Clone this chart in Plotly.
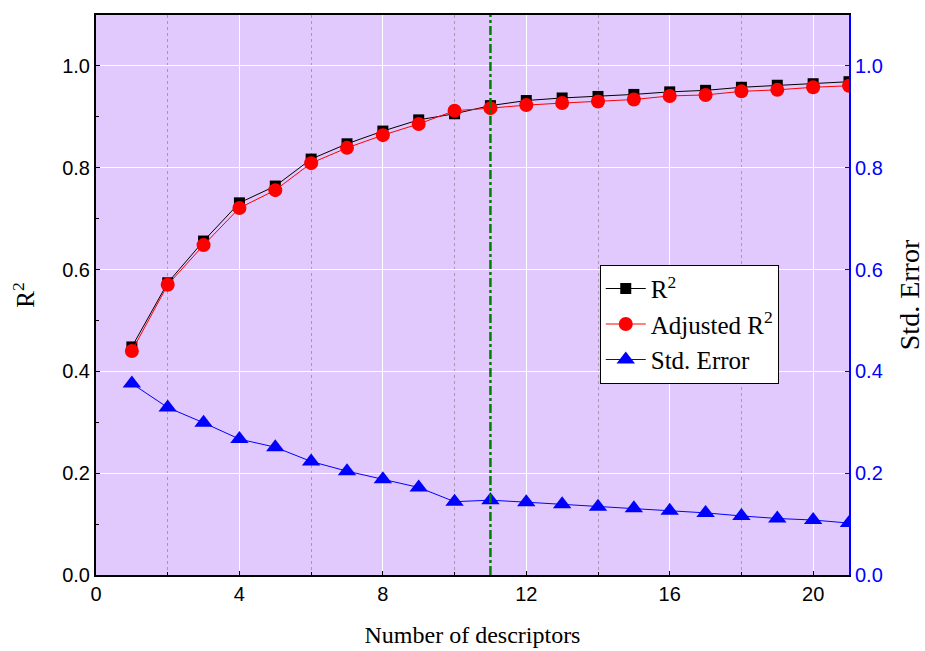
import plotly.graph_objects as go

# Model size vs. fit quality
n_descriptors = list(range(1, 22))
r2 = [0.448, 0.574, 0.656, 0.731, 0.764, 0.817, 0.847, 0.872, 0.894, 0.906, 0.922,
      0.932, 0.937, 0.940, 0.944, 0.949, 0.952, 0.958, 0.962, 0.965, 0.969]
adj_r2 = [0.440, 0.570, 0.648, 0.721, 0.756, 0.809, 0.839, 0.864, 0.886, 0.912, 0.917,
          0.923, 0.927, 0.930, 0.934, 0.941, 0.943, 0.950, 0.953, 0.958, 0.961]
std_error = [0.376, 0.329, 0.299, 0.267, 0.251, 0.223, 0.204, 0.188, 0.172, 0.144, 0.147,
             0.143, 0.139, 0.134, 0.131, 0.126, 0.122, 0.116, 0.111, 0.108, 0.102]
selected_n = 11

serif = "Liberation Serif"
sans = "Liberation Sans"

fig = go.Figure()
fig.add_trace(go.Scatter(
    x=n_descriptors, y=r2, name="R<sup>2</sup>", mode="lines+markers",
    line=dict(color="black", width=1),
    marker=dict(symbol="square", size=11, color="black"),
))
fig.add_trace(go.Scatter(
    x=n_descriptors, y=adj_r2, name="Adjusted R<sup>2</sup>", mode="lines+markers",
    line=dict(color="red", width=1),
    marker=dict(symbol="circle", size=14, color="red"),
))
fig.add_trace(go.Scatter(
    x=n_descriptors, y=std_error, name="Std. Error", mode="lines+markers",
    yaxis="y2",
    line=dict(color="blue", width=1),
    marker=dict(symbol="triangle-up", size=16, color="blue"),
))

fig.add_shape(type="line", xref="x", yref="paper", x0=selected_n, x1=selected_n,
              y0=0, y1=1, line=dict(color="#008000", width=2.5, dash="dashdot"))

fig.update_layout(
    width=925, height=651,
    margin=dict(l=96, r=76, t=15, b=76),
    paper_bgcolor="white",
    plot_bgcolor="#E1C9FD",
    font=dict(family=sans, size=20, color="black"),
    showlegend=True,
    legend=dict(
        x=0.669, y=0.554, xanchor="left", yanchor="top",
        bgcolor="white", bordercolor="black", borderwidth=1,
        font=dict(family=serif, size=25, color="black"),
        tracegroupgap=0, itemwidth=40,
    ),
    xaxis=dict(
        range=[0, 21], tickvals=[0, 4, 8, 12, 16, 20],
        automargin=False,
        showgrid=True, gridcolor="white", gridwidth=1,
        showline=True, linecolor="black", linewidth=2, mirror=True,
        ticks="inside", ticklen=4, tickcolor="black",
        zeroline=False,
        minor=dict(tickvals=[2, 6, 10, 14, 18], showgrid=True,
                   gridcolor="#A897B4", griddash="dot", gridwidth=1,
                   ticks="inside", ticklen=3, tickcolor="black"),
        title=dict(text="Number of descriptors", font=dict(family=serif, size=24), standoff=22),
    ),
    yaxis=dict(
        range=[0, 1.1], tickvals=[0, 0.2, 0.4, 0.6, 0.8, 1.0], tickformat=".1f",
        automargin=False,
        showgrid=True, gridcolor="white", gridwidth=1,
        showline=True, linecolor="black", linewidth=2,
        ticks="inside", ticklen=4, tickcolor="black",
        zeroline=False,
        minor=dict(tickvals=[0.1, 0.3, 0.5, 0.7, 0.9], ticks="inside", ticklen=3,
                   tickcolor="black", showgrid=False),
        title=dict(text="R<sup>2</sup>", font=dict(family=serif, size=25), standoff=20),
    ),
    yaxis2=dict(
        overlaying="y", side="right",
        range=[0, 1.1], tickvals=[0, 0.2, 0.4, 0.6, 0.8, 1.0], tickformat=".1f",
        automargin=False,
        showgrid=False, zeroline=False,
        showline=True, linecolor="blue", linewidth=2,
        ticks="inside", ticklen=4, tickcolor="blue",
        tickfont=dict(color="blue", family=sans, size=20),
        title=dict(text="Std. Error", font=dict(family=serif, size=28, color="black"), standoff=20),
    ),
)

fig.write_html("out.html")
